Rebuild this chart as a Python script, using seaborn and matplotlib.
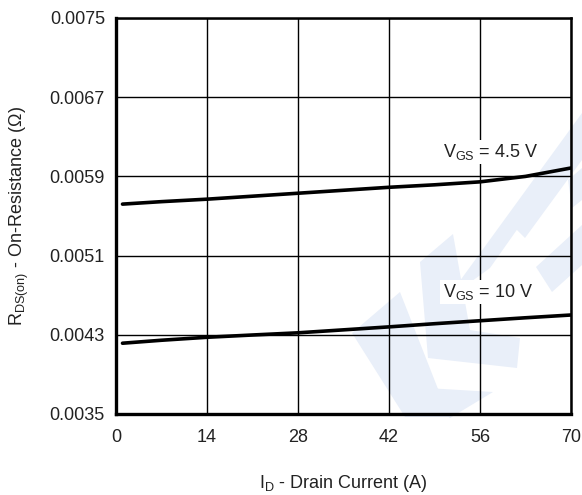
import matplotlib
matplotlib.use("Agg")
import matplotlib.pyplot as plt
from matplotlib.patches import Polygon
import seaborn as sns
import pandas as pd

# Drain current samples (A)
drain_current = [1, 7, 14, 21, 28, 35, 42, 49, 56, 63, 70]
# On-resistance (ohm) at VGS = 4.5 V
rds_vgs45 = [0.00562, 0.005645, 0.00567, 0.0057, 0.00573, 0.00576, 0.00579, 0.005815, 0.005845, 0.0059, 0.005985]
# On-resistance (ohm) at VGS = 10 V
rds_vgs10 = [0.004215, 0.004245, 0.004275, 0.004298, 0.00432, 0.00435, 0.00438, 0.004412, 0.004442, 0.004472, 0.0045]

x_ticks = [0, 14, 28, 42, 56, 70]
y_ticks = [0.0035, 0.0043, 0.0051, 0.0059, 0.0067, 0.0075]
y_tick_labels = ["0.0035", "0.0043", "0.0051", "0.0059", "0.0067", "0.0075"]
curve_labels = ["V$_{\\mathrm{GS}}$ = 4.5 V", "V$_{\\mathrm{GS}}$ = 10 V"]

sns.set_theme(style="white")
plt.rcParams["font.family"] = ["Liberation Sans", "DejaVu Sans"]
plt.rcParams["mathtext.fontset"] = "custom"
plt.rcParams["mathtext.rm"] = "Liberation Sans"
plt.rcParams["mathtext.it"] = "Liberation Sans:italic"
plt.rcParams["mathtext.bf"] = "Liberation Sans:bold"

df = pd.concat([
    pd.DataFrame({"ID": drain_current, "RDS": rds_vgs45, "VGS": "4.5"}),
    pd.DataFrame({"ID": drain_current, "RDS": rds_vgs10, "VGS": "10"}),
])

fig = plt.figure(figsize=(5.82, 4.95), dpi=100)
ax = fig.add_axes([116 / 582, 81 / 495, 455 / 582, 396 / 495])

# Light logo watermark behind the plot (figure pixel coordinates, y from top)
wm_color = "#e9eff9"
W, H = 582.0, 495.0
def fig_poly(pts):
    return Polygon([(x / W, 1 - y / H) for x, y in pts], closed=True,
                   transform=fig.transFigure, facecolor=wm_color,
                   edgecolor="none", zorder=0.5)

shapes = [
    [(352, 333), (400, 292), (449, 417), (405, 417)],
    [(420, 262), (453, 234), (470, 330), (520, 338), (517, 368), (428, 358)],
    [(446, 300), (582, 113), (582, 160), (525, 238), (515, 228), (566, 160), (490, 268)],
    [(410, 387), (493, 392), (450, 418)],
    [(536, 267), (582, 225), (582, 265), (552, 292)],
    [(568, 180), (582, 168), (582, 200), (572, 208)],
]
for s in shapes:
    fig.add_artist(fig_poly(s))
ax.set_facecolor("none")
ax.set_zorder(1)

sns.lineplot(data=df, x="ID", y="RDS", hue="VGS", palette=["black", "black"],
             linewidth=2.6, legend=False, ax=ax, zorder=3)

ax.set_xlim(0, 70)
ax.set_ylim(0.0035, 0.0075)
ax.set_xticks(x_ticks)
ax.set_yticks(y_ticks)
ax.set_yticklabels(y_tick_labels)
ax.tick_params(axis="both", length=0, labelsize=13, colors="#222222", pad=8)
ax.tick_params(axis="x", pad=11)
ax.grid(True, color="black", linewidth=1.0)
for side, lw in (("left", 2.4), ("bottom", 2.4), ("top", 1.8), ("right", 1.8)):
    ax.spines[side].set_visible(True)
    ax.spines[side].set_color("black")
    ax.spines[side].set_linewidth(lw)

ax.set_xlabel("I$_{\\mathrm{D}}$ - Drain Current (A)", fontsize=13, labelpad=19, color="#222222")
ax.set_ylabel("R$_{\\mathrm{DS(on)}}$ - On-Resistance (Ω)", fontsize=13, labelpad=13, color="#222222")

box = dict(facecolor="white", edgecolor="none", pad=1.5)
ax.text(57.7, 0.006146, curve_labels[0], fontsize=13, ha="center", va="center",
        color="#222222", bbox=box, zorder=4)
ax.text(57.2, 0.004732, curve_labels[1], fontsize=13, ha="center", va="center",
        color="#222222", bbox=box, zorder=4)

fig.savefig("out.png", dpi=100)
